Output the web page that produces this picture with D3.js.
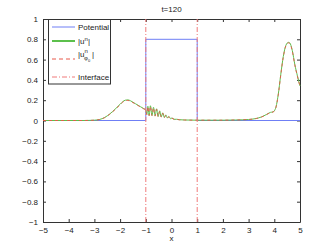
<!DOCTYPE html>
<html>
<head>
<meta charset="utf-8">
<script src="https://cdn.jsdelivr.net/npm/d3@7"></script>
<style>
  body { margin: 0; background: #fff; }
  text { font-family: "Liberation Sans", Arial, sans-serif; fill: #222; }
</style>
</head>
<body>
<script>
// valeurs (t=120)
const xTicks = [-5, -4, -3, -2, -1, 0, 1, 2, 3, 4, 5];
const yTicks = [-1, -0.8, -0.6, -0.4, -0.2, 0, 0.2, 0.4, 0.6, 0.8, 1];
const interfaces = [-1, 1];

const potX = [-5, -1, -1, 1, 1, 5];
const potY = [0, 0, 0.8, 0.8, 0, 0];

const uX = [-5, -3.4, -3.2, -3.0, -2.8, -2.6, -2.4, -2.2, -2.0, -1.9, -1.8, -1.7, -1.6, -1.5, -1.4, -1.3, -1.2, -1.1, -1.0,
  -0.96, -0.92, -0.87, -0.82, -0.76, -0.70, -0.64, -0.58, -0.52, -0.46, -0.40, -0.34, -0.28, -0.22, -0.16, -0.10, -0.04,
  0.02, 0.1, 0.2, 0.3, 0.5, 1.0, 1.5, 2.0, 2.5, 3.0, 3.3, 3.5, 3.7, 3.85, 3.95, 4.05, 4.15, 4.25, 4.35, 4.45, 4.55, 4.6,
  4.7, 4.8, 4.9, 5.0];
const uY = [0, 0, 0.001, 0.003, 0.01, 0.03, 0.065, 0.11, 0.16, 0.185, 0.2, 0.203, 0.195, 0.18, 0.165, 0.15, 0.135, 0.12, 0.105,
  0.06, 0.14, 0.05, 0.145, 0.05, 0.13, 0.045, 0.115, 0.04, 0.095, 0.035, 0.075, 0.03, 0.055, 0.025, 0.04, 0.018,
  0.025, 0.012, 0.012, 0.008, 0.005, 0.003, 0.003, 0.003, 0.005, 0.01, 0.02, 0.035, 0.06, 0.08, 0.085, 0.12, 0.25, 0.45, 0.63,
  0.74, 0.77, 0.765, 0.69, 0.55, 0.44, 0.34];
// |u_phi0| : presque identique a |u|
const uPhiY = [0, 0, 0.001, 0.003, 0.009, 0.028, 0.062, 0.106, 0.155, 0.18, 0.195, 0.198, 0.19, 0.176, 0.162, 0.147, 0.132, 0.117, 0.1,
  0.058, 0.135, 0.048, 0.14, 0.048, 0.125, 0.043, 0.11, 0.038, 0.09, 0.033, 0.072, 0.028, 0.052, 0.024, 0.038, 0.017,
  0.023, 0.011, 0.011, 0.007, 0.005, 0.003, 0.003, 0.003, 0.005, 0.01, 0.02, 0.034, 0.058, 0.078, 0.083, 0.118, 0.245, 0.445, 0.625,
  0.735, 0.765, 0.76, 0.685, 0.545, 0.435, 0.335];

const WIDTH = 332, HEIGHT = 250;
const mLeft = 43, mRight = 300, mTop = 19, mBottom = 222;

const svg = d3.select("body").append("svg")
  .attr("width", WIDTH).attr("height", HEIGHT);

const x = d3.scaleLinear().domain([-5, 5]).range([mLeft, mRight]);
const y = d3.scaleLinear().domain([-1, 1]).range([mBottom, mTop]);

// axes facon matlab : ticks vers l'interieur sur les 4 cotes
const axisCol = "#333";
const fmt = d => d < 0 ? "\u2212" + Math.abs(d) : d;
svg.append("g").attr("transform", `translate(0,${mBottom})`)
  .call(d3.axisBottom(x).tickValues(xTicks).tickSizeInner(-3).tickSizeOuter(0).tickPadding(5).tickFormat(fmt));
svg.append("g").attr("transform", `translate(0,${mTop})`)
  .call(d3.axisTop(x).tickValues(xTicks).tickSizeInner(-3).tickSizeOuter(0).tickFormat(""));
svg.append("g").attr("transform", `translate(${mLeft},0)`)
  .call(d3.axisLeft(y).tickValues(yTicks).tickSizeInner(-3).tickSizeOuter(0).tickPadding(5).tickFormat(fmt));
svg.append("g").attr("transform", `translate(${mRight},0)`)
  .call(d3.axisRight(y).tickValues(yTicks).tickSizeInner(-3).tickSizeOuter(0).tickFormat(""));

svg.selectAll(".domain").attr("stroke", axisCol);
svg.selectAll(".tick line").attr("stroke", axisCol);
svg.selectAll(".tick text").attr("font-size", 8).attr("fill", "#222")
  .attr("font-family", "Liberation Sans, Arial, sans-serif");

const line = d3.line().x(d => x(d[0])).y(d => y(d[1]));
const smooth = d3.line().x(d => x(d[0])).y(d => y(d[1])).curve(d3.curveMonotoneX);
const g = svg.append("g");

const cBlue = "#6f7ff5", cGreen = "#5cc04c", cRed = "#e8584a", cInt = "#f07a7a";

g.append("path").datum(d3.zip(potX, potY))
  .attr("d", line).attr("fill", "none").attr("stroke", cBlue).attr("stroke-width", 1);
g.append("path").datum(d3.zip(uX, uY))
  .attr("d", smooth).attr("fill", "none").attr("stroke", cGreen).attr("stroke-width", 1);
g.append("path").datum(d3.zip(uX, uPhiY))
  .attr("d", smooth).attr("fill", "none").attr("stroke", cRed).attr("stroke-width", 0.9)
  .attr("stroke-dasharray", "3,3");

interfaces.forEach(v => {
  g.append("line").attr("x1", x(v)).attr("x2", x(v)).attr("y1", y(-1)).attr("y2", y(1))
    .attr("stroke", cInt).attr("stroke-width", 1).attr("stroke-dasharray", "5,2,1,2");
});

// titre + label
svg.append("text").attr("x", (mLeft + mRight) / 2).attr("y", 12).attr("text-anchor", "middle")
  .attr("font-size", 8).text("t=120");
svg.append("text").attr("x", (mLeft + mRight) / 2).attr("y", 241).attr("text-anchor", "middle")
  .attr("font-size", 8).text("x");

// legende
const leg = svg.append("g");
leg.append("rect").attr("x", 48.5).attr("y", 19.5).attr("width", 62).attr("height", 64.5)
  .attr("fill", "#fff").attr("stroke", axisCol).attr("stroke-width", 1);

const items = [
  { y: 27, col: cBlue, w: 1, dash: null },
  { y: 41, col: cGreen, w: 2, dash: null },
  { y: 59, col: cRed, w: 1, dash: "4,3" },
  { y: 77, col: cInt, w: 1, dash: "5,2,1,2" }
];
items.forEach(it => {
  leg.append("line").attr("x1", 52).attr("x2", 75).attr("y1", it.y).attr("y2", it.y)
    .attr("stroke", it.col).attr("stroke-width", it.w).attr("stroke-dasharray", it.dash);
});

leg.append("text").attr("x", 78).attr("y", 30).attr("font-size", 8).text("Potential");
const t2 = leg.append("text").attr("x", 78).attr("y", 44).attr("font-size", 8);
t2.append("tspan").text("|u");
t2.append("tspan").attr("dy", -3).attr("font-size", 6).text("n");
t2.append("tspan").attr("dy", 3).text("|");
const t3 = leg.append("text").attr("x", 78).attr("y", 57).attr("font-size", 8);
t3.append("tspan").text("|u");
t3.append("tspan").attr("dy", -4).attr("font-size", 6).text("n");
t3.append("tspan").attr("x", 84).attr("dy", 7).attr("font-size", 6).text("\u03c6");
t3.append("tspan").attr("dy", 2).attr("font-size", 4).text("0");
t3.append("tspan").attr("x", 92).attr("dy", -5).text("|");
leg.append("text").attr("x", 78).attr("y", 80).attr("font-size", 8).text("Interface");
</script>
</body>
</html>
